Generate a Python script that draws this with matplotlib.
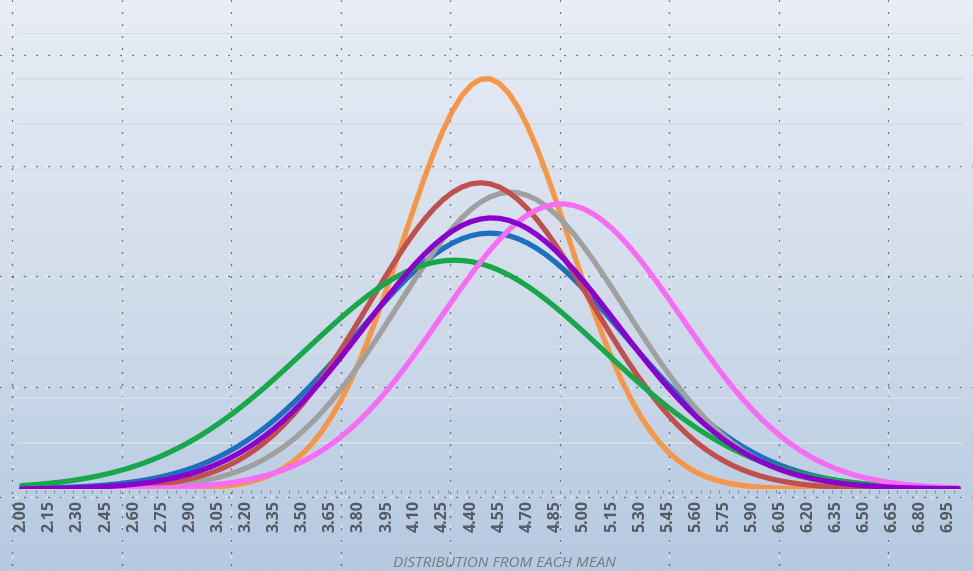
import numpy as np
import matplotlib.pyplot as plt
from matplotlib.colors import LinearSegmentedColormap

#######################################
###     Data
#######################################
# category axis: 2.00 .. 7.00 in 0.05 steps, every third one labelled
x_values = [round(2.00 + 0.05 * i, 2) for i in range(101)]
label_step = 3

# mean and standard deviation of each distribution
series_names = ['blue', 'orange', 'gray', 'red', 'green', 'pink', 'purple']
series_means = [4.50, 4.48, 4.61, 4.45, 4.31, 4.88, 4.51]
series_sds = [0.711, 0.443, 0.613, 0.594, 0.795, 0.638, 0.671]

series_colors = ['#1F6FBF', '#F79646', '#A0A0A0', '#C0504D', '#16A84A', '#F76BF5', '#8A00CC']

x_label = 'DISTRIBUTION FROM EACH MEAN'

#######################################
###     Figure + background
#######################################
W, H = 973, 571
fig = plt.figure(figsize=(W / 100, H / 100), dpi=100)

bg = fig.add_axes([0, 0, 1, 1], zorder=0)
grad = np.linspace(0, 1, 256).reshape(-1, 1)
cmap = LinearSegmentedColormap.from_list('bg', ['#E8EDF6', '#D2DDEB', '#B5C9E1'])
bg.imshow(grad, aspect='auto', cmap=cmap, extent=[0, W, H, 0])
bg.set_xlim(0, W)
bg.set_ylim(H, 0)
bg.axis('off')

# dotted overlay grid (pixel spacing ~110)
for xp in np.arange(12, W, 109.5):
    bg.plot([xp, xp], [0, H], color='white', lw=2.0, alpha=0.35, dashes=(1, 4.4))
    bg.plot([xp, xp], [0, H], color='#333333', lw=0.9, dashes=(1, 8.6))
for yp in np.arange(55, H, 110.5):
    bg.plot([0, W], [yp, yp], color='white', lw=2.0, alpha=0.35, dashes=(1, 4.4))
    bg.plot([0, W], [yp, yp], color='#333333', lw=0.9, dashes=(1, 8.6))

#######################################
###     Plot area
#######################################
left, right, top, bottom = 17, 963, 33, 489
ax = fig.add_axes([left / W, 1 - bottom / H, (right - left) / W, (bottom - top) / H], zorder=1)
ax.set_facecolor('none')

xs = np.array(x_values)
idx = np.arange(len(xs))
for mu, sd, col in zip(series_means, series_sds, series_colors):
    ys = np.exp(-0.5 * ((xs - mu) / sd) ** 2) / (sd * np.sqrt(2 * np.pi))
    ax.plot(idx, ys, color=col, lw=3.8, solid_capstyle='round', solid_joinstyle='round', zorder=3)

ax.set_xlim(-0.5, len(xs) - 0.5)
ax.set_ylim(0, 1.0)
ax.set_yticks(np.arange(0.1, 1.01, 0.1))
ax.yaxis.grid(True, color='#D5DDE7', lw=1.4)
ax.set_axisbelow(True)
ax.tick_params(axis='y', length=0, labelleft=False)

for s in ['top', 'left', 'right']:
    ax.spines[s].set_visible(False)
ax.spines['bottom'].set_color('#C9D1DB')
ax.spines['bottom'].set_linewidth(1.0)

ax.set_xticks(idx[::label_step])
ax.set_xticklabels(['%.2f' % v for v in xs[::label_step]], rotation=90,
                   fontsize=11.5, color='#545a62', fontweight='bold', family='Open Sans')
ax.set_xticks(idx[:-1] + 0.5, minor=True)
ax.tick_params(axis='x', which='major', length=0, pad=8)
ax.tick_params(axis='x', which='minor', length=3, color='#8C96A3', width=0.8)

ax.set_xlabel(x_label, fontsize=11, color='#7A7A7A', fontstyle='italic', family='Open Sans')
ax.xaxis.set_label_coords(0.515, -0.147)

fig.savefig('out.png', dpi=100)
